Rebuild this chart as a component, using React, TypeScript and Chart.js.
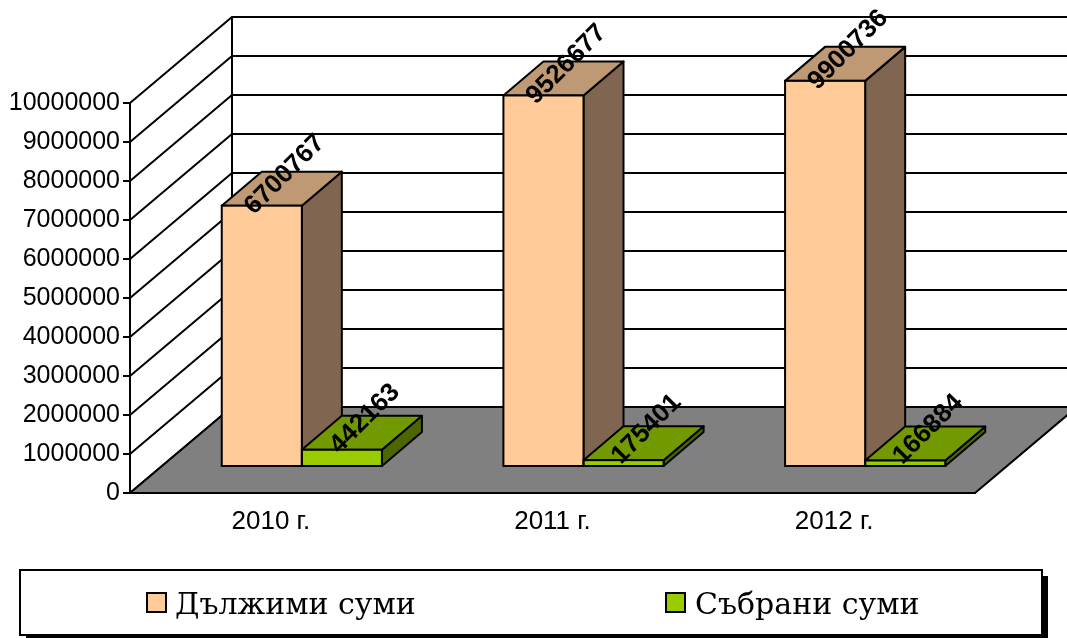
import React, { useEffect, useRef } from "react";
import { Chart, registerables } from "chart.js";

Chart.register(...registerables);

const categories = ["2010 г.", "2011 г.", "2012 г."];
const owedLabel = "Дължими суми";
const collectedLabel = "Събрани суми";
const owedValues = [6700767, 9526677, 9900736];
const collectedValues = [442163, 175401, 166884];

const FRONT = { owed: "#FFCC99", collected: "#99CC00" };
const TOP = { owed: "#BF9973", collected: "#739900" };
const SIDE = { owed: "#806650", collected: "#4D6600" };

const SANS = '"Liberation Sans", Arial, sans-serif';
const SERIF = '"DejaVu Serif", serif';

// Floor / wall depth and bar depth, in pixels
const WALL_DX = 102;
const WALL_DY = -86;
const BAR_SHIFT_X = 31;
const BAR_SHIFT_Y = -26;
const BAR_DX = 40;
const BAR_DY = -34;
const LINE = 2;

function poly(ctx: CanvasRenderingContext2D, pts: number[][], fill?: string) {
  ctx.beginPath();
  pts.forEach((p, i) => (i ? ctx.lineTo(p[0], p[1]) : ctx.moveTo(p[0], p[1])));
  ctx.closePath();
  if (fill) {
    ctx.fillStyle = fill;
    ctx.fill();
  }
  ctx.stroke();
}

const box3d = {
  id: "box3d",
  beforeDraw(chart: any) {
    const { ctx, chartArea: a, scales } = chart;
    const y = scales.y;
    ctx.save();
    ctx.strokeStyle = "#000";
    ctx.lineWidth = LINE;
    ctx.lineCap = "butt";
    const backBottom = a.bottom + WALL_DY;
    const backTop = a.top + WALL_DY;
    // gridlines on side wall and back wall
    y.ticks.forEach((t: any) => {
      const py = y.getPixelForValue(t.value);
      ctx.beginPath();
      ctx.moveTo(a.left, py);
      ctx.lineTo(a.left + WALL_DX, py + WALL_DY);
      ctx.lineTo(a.right + WALL_DX, py + WALL_DY);
      ctx.stroke();
    });
    // back wall corner
    ctx.beginPath();
    ctx.moveTo(a.left + WALL_DX, backTop);
    ctx.lineTo(a.left + WALL_DX, backBottom);
    ctx.stroke();
    // floor
    poly(
      ctx,
      [
        [a.left, a.bottom],
        [a.right, a.bottom],
        [a.right + WALL_DX, backBottom],
        [a.left + WALL_DX, backBottom],
      ],
      "#808080"
    );
    ctx.restore();
  },
  beforeDatasetsDraw(chart: any) {
    const { ctx } = chart;
    ctx.save();
    ctx.translate(BAR_SHIFT_X, BAR_SHIFT_Y);
    ctx.save();
    ctx.strokeStyle = "#000";
    ctx.lineWidth = LINE;
    ctx.lineJoin = "round";
    const keys: ("owed" | "collected")[] = ["owed", "collected"];
    keys.forEach((key, di) => {
      chart.getDatasetMeta(di).data.forEach((el: any) => {
        const { x, y, base, width } = el.getProps(["x", "y", "base", "width"], true);
        const l = x - width / 2;
        const r = x + width / 2;
        poly(
          ctx,
          [
            [r, y],
            [r + BAR_DX, y + BAR_DY],
            [r + BAR_DX, base + BAR_DY],
            [r, base],
          ],
          SIDE[key]
        );
        poly(
          ctx,
          [
            [l, y],
            [l + BAR_DX, y + BAR_DY],
            [r + BAR_DX, y + BAR_DY],
            [r, y],
          ],
          TOP[key]
        );
      });
    });
    ctx.restore();
  },
  afterDatasetsDraw(chart: any) {
    const { ctx } = chart;
    // outlines of the bars' front faces, centred on their edges
    ctx.save();
    ctx.strokeStyle = "#000";
    ctx.lineWidth = LINE;
    chart.data.datasets.forEach((_: any, di: number) => {
      chart.getDatasetMeta(di).data.forEach((el: any) => {
        const { x, y, base, width } = el.getProps(["x", "y", "base", "width"], true);
        ctx.strokeRect(x - width / 2, y, width, base - y);
      });
    });
    ctx.restore();
    ctx.restore();
    // rotated value labels
    ctx.save();
    ctx.fillStyle = "#000";
    ctx.font = `bold 26px ${SANS}`;
    ctx.textAlign = "center";
    ctx.textBaseline = "middle";
    chart.data.datasets.forEach((ds: any, di: number) => {
      chart.getDatasetMeta(di).data.forEach((el: any, i: number) => {
        const { x, y } = el.getProps(["x", "y"], true);
        ctx.save();
        ctx.translate(x + BAR_SHIFT_X + 23, y + BAR_SHIFT_Y - 31);
        ctx.rotate(-Math.PI / 4);
        ctx.fillText(String(ds.data[i]), 0, 0);
        ctx.restore();
      });
    });
    ctx.restore();
  },
  afterDraw(chart: any) {
    const { ctx } = chart;
    ctx.save();
    // legend frame with hard shadow
    ctx.fillStyle = "#000";
    ctx.fillRect(26, 576, 1022, 62);
    ctx.fillStyle = "#fff";
    ctx.strokeStyle = "#000";
    ctx.lineWidth = 2;
    ctx.fillRect(20, 570, 1022, 65);
    ctx.strokeRect(20, 570, 1022, 65);
    const xs = [147, 666];
    ctx.font = `30px ${SERIF}`;
    ctx.textBaseline = "alphabetic";
    ctx.textAlign = "left";
    chart.data.datasets.forEach((ds: any, i: number) => {
      ctx.fillStyle = ds.backgroundColor;
      ctx.fillRect(xs[i], 593, 19, 19);
      ctx.lineWidth = 2;
      ctx.strokeRect(xs[i], 593, 19, 19);
      ctx.fillStyle = "#000";
      ctx.fillText(ds.label, xs[i] + (i ? 29 : 28), 614);
    });
    ctx.restore();
  },
};

export default function App() {
  const ref = useRef<HTMLCanvasElement>(null);
  useEffect(() => {
    const chart = new Chart(ref.current!, {
      type: "bar",
      plugins: [box3d],
      data: {
        labels: categories,
        datasets: [
          {
            label: owedLabel,
            data: owedValues,
            backgroundColor: FRONT.owed,
            borderWidth: 0,
            clip: false,
          } as any,
          {
            label: collectedLabel,
            data: collectedValues,
            backgroundColor: FRONT.collected,
            borderWidth: 0,
            clip: false,
          } as any,
        ],
      },
      options: {
        responsive: false,
        animation: false,
        layout: { padding: { top: 103, right: 92, left: 0, bottom: 0 } },
        datasets: { bar: { categoryPercentage: 0.5687, barPercentage: 1 } },
        plugins: {
          legend: { display: false },
          tooltip: { enabled: false },
          title: { display: false },
        },
        scales: {
          x: {
            afterFit: (s: any) => {
              s.height = 145;
            },
            grid: { display: false, drawTicks: false },
            border: { display: true, color: "#000", width: 2 },
            ticks: { color: "#000", padding: 13, font: { family: SANS, size: 26 }, maxRotation: 0 },
          },
          y: {
            min: 0,
            max: 10000000,
            afterFit: (s: any) => {
              s.width = 130;
            },
            grid: { drawOnChartArea: false, tickLength: 7, color: "#000", lineWidth: LINE },
            border: { display: true, color: "#000", width: 2 },
            ticks: {
              stepSize: 1000000,
              color: "#000",
              padding: 3,
              font: { family: SANS, size: 25 },
              callback: (v: any) => String(v),
            },
          },
        },
      } as any,
    });
    return () => chart.destroy();
  }, []);
  return (
    <div style={{ position: "fixed", left: 0, top: 0, width: 1067, height: 638, overflow: "hidden", background: "#fff" }}>
      <canvas ref={ref} width={1067} height={638} style={{ display: "block" }} />
    </div>
  );
}
